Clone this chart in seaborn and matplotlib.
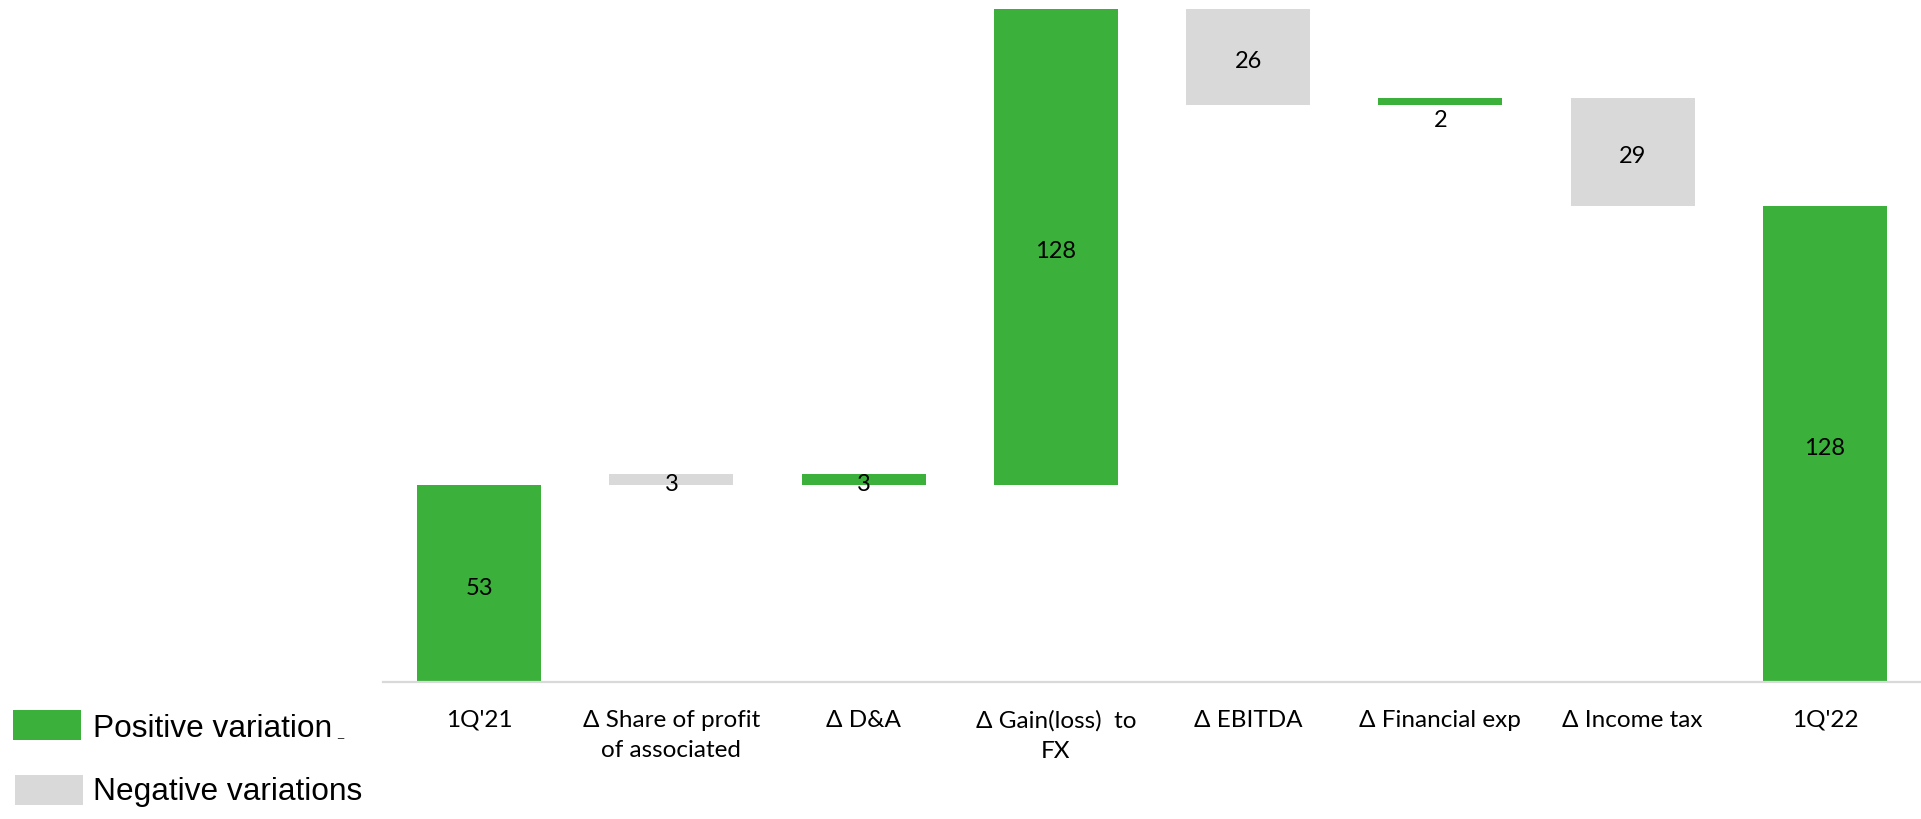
import matplotlib
matplotlib.use("Agg")
import matplotlib.pyplot as plt
import numpy as np
import pandas as pd
import seaborn as sns
from matplotlib.patches import Rectangle

# ---- data -------------------------------------------------------------
categories = [
    "1Q'21",
    "Δ Share of profit\nof associated",
    "Δ D&A",
    "Δ Gain(loss)  to\nFX",
    "Δ EBITDA",
    "Δ Financial exp",
    "Δ Income tax",
    "1Q'22",
]
start_value = 53
changes = [-3, 3, 128, -26, 2, -29]   # signed variations between the two quarters
end_value = 128
# the two offsetting first items are stacked on the same band above the opening bar
apply_order = [1, 0, 2, 3, 4, 5]

GREEN = "#3BB03B"
GREY = "#D9D9D9"

# ---- waterfall geometry from the data ---------------------------------
n_changes = len(changes)
bottoms_chg = [0.0] * n_changes
heights_chg = [0.0] * n_changes
level = start_value
for k in apply_order:
    d = changes[k]
    new_level = level + d
    bottoms_chg[k] = min(level, new_level)
    heights_chg[k] = abs(d)
    level = new_level

bottoms = [0.0] + bottoms_chg + [0.0]
heights = [start_value] + heights_chg + [end_value]
signed = [start_value] + changes + [end_value]
colors = [GREEN if v > 0 else GREY for v in signed]

df = pd.DataFrame({"category": categories, "height": heights})

# ---- figure -----------------------------------------------------------
sns.set_theme(style="white")
plt.rcParams["font.family"] = ["Lato", "DejaVu Sans"]

W, H = 1921, 819
fig = plt.figure(figsize=(W / 100, H / 100), dpi=100)
ax = fig.add_axes([383 / W, 137 / H, (W - 383) / W, 682 / H])

sns.barplot(
    data=df, x="category", y="height", order=categories,
    bottom=bottoms, width=0.645, color=GREEN, saturation=1,
    errorbar=None, ax=ax,
)
for patch, c in zip(ax.patches, colors):
    patch.set_facecolor(c)
    patch.set_edgecolor("none")

ax.set_xlim(-0.5, len(categories) - 0.5)
ax.set_ylim(0, 183.3)

for s in ("left", "top", "right"):
    ax.spines[s].set_visible(False)
ax.spines["bottom"].set_color(GREY)
ax.spines["bottom"].set_linewidth(1.6)

ax.set_yticks([])
ax.set_xlabel("")
ax.set_ylabel("")
ax.set_xticks(range(len(categories)))
ax.set_xticklabels(categories, fontsize=17.5, color="black", linespacing=1.55)
ax.tick_params(axis="x", which="major", length=0, pad=20)
ax.set_xticks(np.arange(-0.5, len(categories) - 0.4, 1.0), minor=True)
ax.tick_params(axis="x", which="minor", length=6.5, width=1.5, color=GREY)

# ---- value labels -----------------------------------------------------
for i, (b, h, v) in enumerate(zip(bottoms, heights, signed)):
    txt = f"{abs(v):g}"
    if 0 < i < len(categories) - 1 and abs(v) == 2:
        ax.annotate(txt, (i, b), xytext=(0, -11), textcoords="offset points",
                    ha="center", va="center", fontsize=17, color="black")
    else:
        ax.annotate(txt, (i, b + h / 2), xytext=(0, -2), textcoords="offset points",
                    ha="center", va="center_baseline", fontsize=17, color="black")

# ---- legend -----------------------------------------------------------
fig.patches.append(Rectangle((13 / W, (H - 740) / H), 68 / W, 30 / H,
                             transform=fig.transFigure, facecolor=GREEN,
                             edgecolor="none"))
fig.patches.append(Rectangle((15 / W, (H - 805) / H), 68 / W, 30 / H,
                             transform=fig.transFigure, facecolor=GREY,
                             edgecolor="none"))
fig.text(93 / W, (H - 737) / H, "Positive variation", fontsize=22.8,
         family="Liberation Sans", va="baseline", ha="left", color="black")
fig.text(337 / W, (H - 737) / H, "_", fontsize=8,
         family="Liberation Sans", va="baseline", ha="left", color="black")
fig.text(93 / W, (H - 800) / H, "Negative variations", fontsize=22.8,
         family="Liberation Sans", va="baseline", ha="left", color="black")

fig.savefig("out.png", dpi=100, facecolor="white")
